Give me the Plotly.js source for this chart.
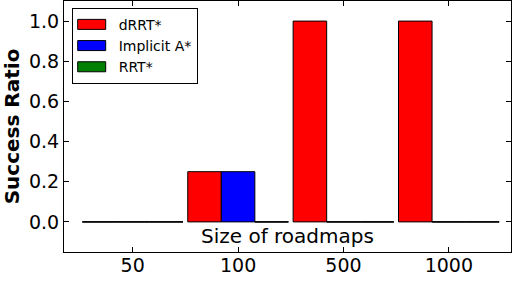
<!DOCTYPE html>
<html><head><meta charset="utf-8">
<script src="https://cdn.plot.ly/plotly-3.0.1.min.js"></script>
<style>html,body{margin:0;padding:0;background:#fff;} #chart{width:517px;height:282px;}</style>
</head><body><div id="chart"></div>
<script>
const categories = ['50', '100', '500', '1000'];
const seriesNames = ['dRRT*', 'Implicit A*', 'RRT*'];
const drrt = [0, 0.25, 1.0, 1.0];
const implicitA = [0, 0.25, 0, 0];
const rrt = [0, 0, 0, 0];
const yTicks = [0.0, 0.2, 0.4, 0.6, 0.8, 1.0];
const yTickLabels = ['0.0', '0.2', '0.4', '0.6', '0.8', '1.0'];
const colors = ['#ff0000', '#0000ff', '#008000'];

const series = [drrt, implicitA, rrt];
const bargap = 0.045;
const idx = categories.map((c, i) => i);
const traces = series.map((vals, k) => ({
  type: 'bar', name: seriesNames[k], x: idx, y: vals,
  marker: {color: colors[k], line: {color: '#000', width: 1}},
  hoverinfo: 'skip'
}));
// outlines of zero-height bars (matplotlib draws their edge as a flat line)
const w = (1 - bargap) / series.length;
series.forEach((vals, k) => {
  const xs = [], ys = [];
  vals.forEach((v, i) => {
    if (v === 0) {
      const x0 = i - (1 - bargap) / 2 + k * w;
      xs.push(x0, x0 + w, null); ys.push(0, 0, null);
    }
  });
  traces.push({type: 'scatter', mode: 'lines', x: xs, y: ys,
    line: {color: '#000', width: 1.2}, showlegend: false, hoverinfo: 'skip'});
});

const axisCommon = {
  showline: true, linecolor: '#000', linewidth: 1, mirror: 'ticks',
  ticks: 'inside', ticklen: 5, tickcolor: '#000', tickwidth: 1,
  showgrid: false, zeroline: false, tickfont: {size: 19}
};
const layout = {
  width: 517, height: 282,
  margin: {l: 64, r: 6, t: 1, b: 30},
  paper_bgcolor: '#fff', plot_bgcolor: '#fff',
  font: {family: 'DejaVu Sans', size: 18, color: '#000'},
  barmode: 'group', bargap: bargap, bargroupgap: 0,
  xaxis: Object.assign({}, axisCommon, {range: [-0.652, 3.59], tickvals: idx, ticktext: categories,
    ticklabelstandoff: -4}),
  yaxis: Object.assign({}, axisCommon, {range: [-0.15, 1.1], tickvals: yTicks, ticktext: yTickLabels,
    title: {text: '<b>Success Ratio</b>', font: {size: 20}, standoff: 5}}),
  annotations: [{text: 'Size of roadmaps', xref: 'paper', yref: 'y', x: 0.5, y: -0.07,
    showarrow: false, font: {size: 20}}],
  legend: {x: 0.0172, y: 0.973, xanchor: 'left', yanchor: 'top', bordercolor: '#000',
    borderwidth: 1, bgcolor: '#fff', font: {size: 14}, itemwidth: 36},
  showlegend: true
};
Plotly.newPlot('chart', traces, layout, {staticPlot: true}).then(gd => {
  gd.querySelectorAll('.legend .legendpoints path').forEach(p => p.setAttribute('d', 'M10,5H-18V-5H10Z'));
});
</script>
</body></html>
